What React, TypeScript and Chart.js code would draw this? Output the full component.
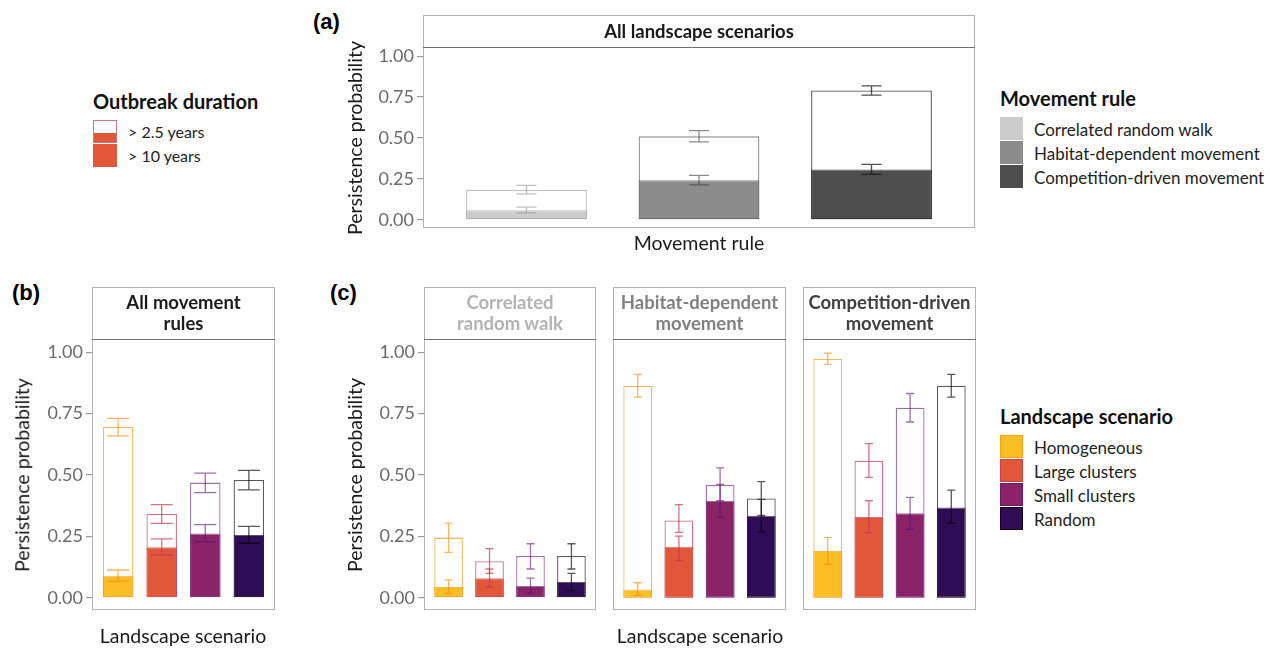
import React, { useEffect, useRef } from 'react';
import { Chart, registerables } from 'chart.js';

Chart.register(...registerables);

const FONT = 'Lato, "Noto Sans", sans-serif';

// ---------- categories / labels ----------
const movementRules = ['Correlated random walk', 'Habitat-dependent movement', 'Competition-driven movement'];
const scenarios = ['Homogeneous', 'Large clusters', 'Small clusters', 'Random'];
const durations = ['> 2.5 years', '> 10 years'];
const yTicks = [0, 0.25, 0.5, 0.75, 1];

// ---------- panel (a): all landscape scenarios, by movement rule ----------
const aTotal = [0.183, 0.51, 0.791];
const aTotalLo = [0.159, 0.476, 0.762];
const aTotalHi = [0.211, 0.545, 0.819];
const aTen = [0.059, 0.242, 0.307];
const aTenLo = [0.043, 0.213, 0.278];
const aTenHi = [0.077, 0.272, 0.339];

// ---------- panel (b): all movement rules, by landscape scenario ----------
const bTotal = [0.696, 0.342, 0.469, 0.48];
const bTotalLo = [0.659, 0.303, 0.428, 0.439];
const bTotalHi = [0.731, 0.379, 0.508, 0.519];
const bTen = [0.09, 0.206, 0.262, 0.256];
const bTenLo = [0.067, 0.174, 0.228, 0.222];
const bTenHi = [0.113, 0.24, 0.298, 0.291];

// ---------- panel (c): correlated random walk ----------
const cCrwTotal = [0.245, 0.149, 0.17, 0.17];
const cCrwTotalLo = [0.185, 0.099, 0.117, 0.117];
const cCrwTotalHi = [0.304, 0.2, 0.22, 0.22];
const cCrwTen = [0.044, 0.079, 0.048, 0.064];
const cCrwTenLo = [0.018, 0.042, 0.02, 0.029];
const cCrwTenHi = [0.073, 0.117, 0.08, 0.099];

// ---------- panel (c): habitat-dependent movement ----------
const cHdmTotal = [0.864, 0.315, 0.459, 0.404];
const cHdmTotalLo = [0.817, 0.266, 0.395, 0.335];
const cHdmTotalHi = [0.91, 0.379, 0.529, 0.473];
const cHdmTen = [0.034, 0.208, 0.394, 0.334];
const cHdmTenLo = [0.01, 0.152, 0.327, 0.269];
const cHdmTenHi = [0.061, 0.251, 0.462, 0.401];

// ---------- panel (c): competition-driven movement ----------
const cCdmTotal = [0.974, 0.558, 0.774, 0.864];
const cCdmTotalLo = [0.951, 0.49, 0.716, 0.817];
const cCdmTotalHi = [0.996, 0.628, 0.832, 0.91];
const cCdmTen = [0.19, 0.329, 0.344, 0.368];
const cCdmTenLo = [0.136, 0.265, 0.279, 0.303];
const cCdmTenHi = [0.245, 0.395, 0.409, 0.438];

// ---------- colours ----------
const movementFill = ['#cccccc', '#8c8c8c', '#4d4d4d'];
const movementLine = ['rgba(150,150,150,0.6)', 'rgba(60,60,60,0.6)', 'rgba(20,20,20,0.75)'];
const scenarioFill = ['#fbbe23', '#e15738', '#8b2368', '#2e0c56'];
const scenarioLine = ['rgba(249,142,9,0.65)', 'rgba(188,55,84,0.7)', 'rgba(87,16,110,0.6)', 'rgba(0,0,4,0.65)'];

const errPlugin = {
  id: 'errbars',
  afterDatasetsDraw(chart: any) {
    const ctx = chart.ctx;
    const xs = chart.scales.x;
    const ys = chart.scales.y;
    const dsets = chart.data.datasets.slice().reverse();
    dsets.forEach((ds: any) => {
      ctx.save();
      ctx.lineWidth = 1.3;
      ds.errLo.forEach((lo: number, i: number) => {
        const hi = ds.errHi[i];
        const x = xs.getPixelForValue(i);
        const yl = ys.getPixelForValue(lo);
        const yh = ys.getPixelForValue(hi);
        const half = ds.capPx / 2;
        ctx.strokeStyle = ds.errColor[i];
        ctx.beginPath();
        ctx.moveTo(x, yh);
        ctx.lineTo(x, yl);
        ctx.moveTo(x - half, yh);
        ctx.lineTo(x + half, yh);
        ctx.moveTo(x - half, yl);
        ctx.lineTo(x + half, yl);
        ctx.stroke();
      });
      ctx.restore();
    });
  },
};

type Spec = {
  left: number; right: number; stripTop: number; plotTop: number; bottom: number;
  axisW: number; showY: boolean; strip: string; stripColor: string;
  labels: string[]; total: number[]; totalLo: number[]; totalHi: number[];
  ten: number[]; tenLo: number[]; tenHi: number[];
  fill: string[]; line: string[]; cap: number;
};

function BarPanel({ spec }: { spec: Spec }) {
  const ref = useRef<HTMLCanvasElement>(null);
  const w = spec.right - spec.left + spec.axisW;
  const h = spec.bottom - spec.plotTop;
  useEffect(() => {
    const n = spec.labels.length;
    const chart = new Chart(ref.current as HTMLCanvasElement, {
      type: 'bar',
      data: {
        labels: spec.labels,
        datasets: [
          {
            label: durations[1],
            data: spec.ten.map((v, i) => ({ x: i, y: v })),
            backgroundColor: spec.fill,
            borderColor: spec.line,
            borderWidth: 1,
            borderSkipped: false,
            grouped: false,
            barPercentage: 0.7,
            categoryPercentage: 1,
            errLo: spec.tenLo, errHi: spec.tenHi, errColor: spec.line, capPx: spec.cap,
          } as any,
          {
            label: durations[0],
            data: spec.total.map((v, i) => ({ x: i, y: v })),
            backgroundColor: '#ffffff',
            borderColor: spec.line,
            borderWidth: 1.3,
            borderSkipped: false,
            grouped: false,
            barPercentage: 0.7,
            categoryPercentage: 1,
            errLo: spec.totalLo, errHi: spec.totalHi, errColor: spec.line, capPx: spec.cap,
          } as any,
        ],
      },
      options: {
        responsive: true,
        maintainAspectRatio: false,
        animation: false,
        layout: { padding: 0 },
        plugins: { legend: { display: false }, tooltip: { enabled: false } },
        scales: {
          x: {
            type: 'linear', min: -0.6, max: n - 0.4, offset: false, display: false,
            afterBuildTicks: (s: any) => { s.ticks = spec.labels.map((_, i) => ({ value: i })); },
          },
          y: {
            display: spec.showY,
            min: -0.05,
            max: 1.05,
            afterFit: (s: any) => { s.width = spec.axisW; s.paddingTop = 0; s.paddingBottom = 0; },
            afterBuildTicks: (s: any) => { s.ticks = yTicks.map((v) => ({ value: v })); },
            ticks: {
              callback: (v: any) => Number(v).toFixed(2),
              color: '#6b6b6b',
              font: { family: FONT, size: 18 },
              padding: 3,
            },
            grid: { drawOnChartArea: false, drawTicks: true, tickLength: 6, color: '#999999', lineWidth: 1.2 },
            border: { display: false },
          } as any,
        },
      } as any,
      plugins: [errPlugin],
    });
    return () => chart.destroy();
  }, []);
  return (
    <>
      <div style={{ position: 'absolute', left: spec.left - spec.axisW, top: spec.plotTop, width: w, height: h }}>
        <canvas ref={ref} />
      </div>
      <div style={{
        position: 'absolute', left: spec.left, top: spec.stripTop, width: spec.right - spec.left,
        height: spec.bottom - spec.stripTop, border: '1.3px solid #b3b3b3', boxSizing: 'border-box', pointerEvents: 'none',
      }} />
      <div style={{
        position: 'absolute', left: spec.left, top: spec.stripTop, width: spec.right - spec.left,
        height: spec.plotTop - spec.stripTop, borderBottom: '1.3px solid #707070', boxSizing: 'border-box',
        display: 'flex', alignItems: 'center', justifyContent: 'center', textAlign: 'center',
        whiteSpace: 'pre-line', fontFamily: FONT, fontWeight: 700, fontSize: 18.5, lineHeight: '21px', color: spec.stripColor,
      }}>{spec.strip}</div>
    </>
  );
}

function Text({ x, y, children, size = 19.5, weight = 400, color = '#1a1a1a', anchor = 'center', rotate = false, family = FONT }: any) {
  const tx = anchor === 'left' ? '0' : '-50%';
  return (
    <div style={{
      position: 'absolute', left: x, top: y, whiteSpace: 'nowrap', fontFamily: family, fontSize: size, fontWeight: weight,
      color, lineHeight: 1, transform: `translate(${tx},-50%)${rotate ? ' rotate(-90deg)' : ''}`,
    }}>{children}</div>
  );
}

const panelA: Spec = {
  left: 423, right: 975, stripTop: 15, plotTop: 48, bottom: 228, axisW: 62, showY: true,
  strip: 'All landscape scenarios', stripColor: '#1a1a1a', labels: movementRules,
  total: aTotal, totalLo: aTotalLo, totalHi: aTotalHi, ten: aTen, tenLo: aTenLo, tenHi: aTenHi,
  fill: movementFill, line: movementLine, cap: 20,
};
const panelB: Spec = {
  left: 92, right: 275, stripTop: 287, plotTop: 340, bottom: 610, axisW: 62, showY: true,
  strip: 'All movement\nrules', stripColor: '#1a1a1a', labels: scenarios,
  total: bTotal, totalLo: bTotalLo, totalHi: bTotalHi, ten: bTen, tenLo: bTenLo, tenHi: bTenHi,
  fill: scenarioFill, line: scenarioLine, cap: 22,
};
const panelC1: Spec = {
  left: 424, right: 596, stripTop: 287, plotTop: 340, bottom: 610, axisW: 62, showY: true,
  strip: 'Correlated\nrandom walk', stripColor: '#b3b3b3', labels: scenarios,
  total: cCrwTotal, totalLo: cCrwTotalLo, totalHi: cCrwTotalHi, ten: cCrwTen, tenLo: cCrwTenLo, tenHi: cCrwTenHi,
  fill: scenarioFill, line: scenarioLine, cap: 8,
};
const panelC2: Spec = {
  left: 613, right: 786, stripTop: 287, plotTop: 340, bottom: 610, axisW: 0, showY: false,
  strip: 'Habitat-dependent\nmovement', stripColor: '#808080', labels: scenarios,
  total: cHdmTotal, totalLo: cHdmTotalLo, totalHi: cHdmTotalHi, ten: cHdmTen, tenLo: cHdmTenLo, tenHi: cHdmTenHi,
  fill: scenarioFill, line: scenarioLine, cap: 8,
};
const panelC3: Spec = {
  left: 803, right: 976, stripTop: 287, plotTop: 340, bottom: 610, axisW: 0, showY: false,
  strip: 'Competition-driven\nmovement', stripColor: '#404040', labels: scenarios,
  total: cCdmTotal, totalLo: cCdmTotalLo, totalHi: cCdmTotalHi, ten: cCdmTen, tenLo: cCdmTenLo, tenHi: cCdmTenHi,
  fill: scenarioFill, line: scenarioLine, cap: 8,
};

const keyBox = (top: number, left: number, fill: string, border: string) => (
  <div style={{ position: 'absolute', left, top, width: 23, height: 23, background: fill, border: `1px solid ${border}`, boxSizing: 'border-box' }} />
);

export default function App() {
  return (
    <div style={{ position: 'absolute', left: 0, top: 0, width: 1270, height: 648, background: '#ffffff', overflow: 'hidden' }}>
      <BarPanel spec={panelA} />
      <BarPanel spec={panelB} />
      <BarPanel spec={panelC1} />
      <BarPanel spec={panelC2} />
      <BarPanel spec={panelC3} />

      {/* panel tags */}
      <Text x={313} y={22} size={22} weight={700} anchor="left" family='"Liberation Sans", Arial, sans-serif' color="#000">(a)</Text>
      <Text x={12} y={293} size={22} weight={700} anchor="left" family='"Liberation Sans", Arial, sans-serif' color="#000">(b)</Text>
      <Text x={330} y={293} size={22} weight={700} anchor="left" family='"Liberation Sans", Arial, sans-serif' color="#000">(c)</Text>

      {/* axis titles */}
      <Text x={355} y={138} rotate>Persistence probability</Text>
      <Text x={22} y={475} rotate>Persistence probability</Text>
      <Text x={355} y={475} rotate>Persistence probability</Text>
      <Text x={699} y={243}>Movement rule</Text>
      <Text x={183} y={636}>Landscape scenario</Text>
      <Text x={700} y={636}>Landscape scenario</Text>

      {/* Outbreak duration legend */}
      <Text x={93} y={101} size={20} weight={700} anchor="left" color="#111">Outbreak duration</Text>
      <div style={{ position: 'absolute', left: 93, top: 120, width: 24, height: 23, border: `1.5px solid ${scenarioLine[1]}`, boxSizing: 'border-box', background: '#fff' }}>
        <div style={{ position: 'absolute', left: 0, right: 0, bottom: 0, height: 9, background: scenarioFill[1] }} />
      </div>
      <div style={{ position: 'absolute', left: 93, top: 144, width: 24, height: 23, background: scenarioFill[1] }} />
      <Text x={128} y={132} size={16} anchor="left" color="#222">{durations[0]}</Text>
      <Text x={128} y={156} size={16} anchor="left" color="#222">{durations[1]}</Text>

      {/* Movement rule legend */}
      <Text x={1000} y={98} size={20} weight={700} anchor="left" color="#111">Movement rule</Text>
      {movementRules.map((m, i) => (
        <React.Fragment key={m}>
          {keyBox(117 + i * 24, 1000, movementFill[i], movementFill[i])}
          <Text x={1034} y={129 + i * 24} size={17} anchor="left" color="#222">{m}</Text>
        </React.Fragment>
      ))}

      {/* Landscape scenario legend */}
      <Text x={1000} y={416} size={20} weight={700} anchor="left" color="#111">Landscape scenario</Text>
      {scenarios.map((s, i) => (
        <React.Fragment key={s}>
          {keyBox(435 + i * 24, 1000, scenarioFill[i], scenarioLine[i])}
          <Text x={1034} y={447 + i * 24} size={17} anchor="left" color="#222">{s}</Text>
        </React.Fragment>
      ))}
    </div>
  );
}
